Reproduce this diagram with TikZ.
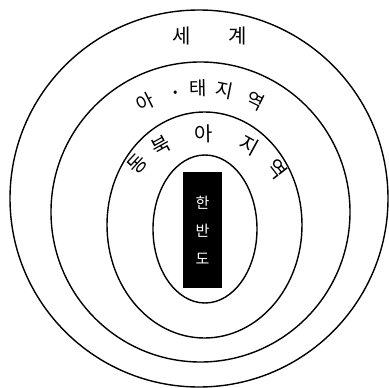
\documentclass[tikz,border=0pt]{standalone}
\usepackage{fontspec}
\newfontfamily\krfont{Noto Sans CJK KR}
\begin{document}
\begin{tikzpicture}[x=1pt,y=-1pt,
  ring/.style={line width=1.4pt},
  lbl/.style={font=\krfont\fontsize{20}{20}\selectfont, inner sep=0pt},
  slbl/.style={font=\krfont\fontsize{19}{19}\selectfont, inner sep=0pt}]
\useasboundingbox (0,0) rectangle (389,388);
% rings
\draw[ring] (199,198.5) ellipse [x radius=189, y radius=188.5];
\draw[ring] (200.5,212) ellipse [x radius=149.5, y radius=150];
\draw[ring] (204.5,225) ellipse [x radius=97.5, y radius=113];
\draw[ring] (205,229) ellipse [x radius=52, y radius=74];
% centres for arc labels
\coordinate (c2) at (200,212);
\coordinate (c3) at (205,225);
% world
\node[lbl] (w1) at (182,36) {세};
\node[lbl] (w2) at (238,36) {계};
% asia-pacific
\path (c2) ++(-116.6:123) node[slbl, rotate=26.6] (ap1) {아};
\path (c2) ++(-101.8:121) node[font=\krfont\fontsize{13}{13}\selectfont, inner sep=0pt] (ap2) {•};
\path (c2) ++(-91:124) node[slbl, rotate=1] (ap3) {태};
\path (c2) ++(-78.7:124) node[slbl, rotate=-11.3] (ap4) {지};
\path (c2) ++(-63.6:124) node[slbl, rotate=-26.4] (ap5) {역};
% northeast asia
\path (c3) ++(-137.6:91) node[lbl, rotate=47.6] (ne1) {동};
\path (c3) ++(-118.8:91) node[lbl, rotate=28.8] (ne2) {북};
\path (c3) ++(-90.8:91) node[lbl, rotate=0.8] (ne3) {아};
\path (c3) ++(-61.2:91) node[lbl, rotate=-28.8] (ne4) {지};
\path (c3) ++(-38:91) node[lbl, rotate=-52] (ne5) {역};
% korean peninsula
\node[fill=black, minimum width=39pt, minimum height=116pt, inner sep=0pt] (kp) at (202.5,230) {};
\node[text=white, align=center, font=\krfont\fontsize{15}{28}\selectfont, inner sep=0pt] (kpt) at (kp.center) {한\\반\\도};
\end{tikzpicture}
\end{document}
